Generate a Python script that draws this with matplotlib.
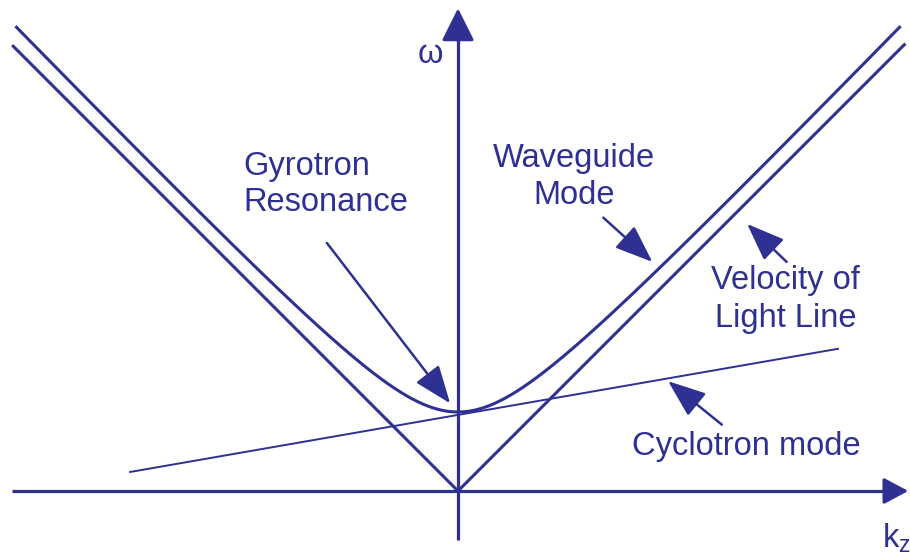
import numpy as np
import matplotlib.pyplot as plt

plt.rcParams['font.family'] = ['Liberation Sans', 'DejaVu Sans']

blue = '#2E3192'

# dispersion parameters (frequency in units of the waveguide cutoff)
omega_cut = 1.0          # waveguide cutoff
wg_slope = 1.035         # asymptotic slope of the waveguide branch
omega_max = 5.87         # top of the waveguide curve
light_k = [-5.63, 5.65]  # extent of the light line
cyc_k = [-4.15, 4.81]    # extent of the beam (cyclotron) line
cyc_omega0 = 0.963       # cyclotron frequency at k_z = 0
cyc_slope = 0.174        # beam velocity

k_end = np.sqrt(omega_max**2 - omega_cut**2) / wg_slope
k_wg = np.linspace(-k_end, k_end, 600)
omega_wg = np.sqrt(omega_cut**2 + (wg_slope * k_wg)**2)

k_light = np.array([light_k[0], 0.0, light_k[1]])
omega_light = np.abs(k_light)

k_cyc = np.array(cyc_k)
omega_cyc = cyc_omega0 + cyc_slope * k_cyc

fig = plt.figure(figsize=(9.1, 5.54), dpi=100)
ax = fig.add_axes([0, 0, 1, 1])
ax.set_xlim(-458 / 79, 452 / 79)
ax.set_ylim(-63 / 79, 491 / 79)
ax.axis('off')

# axes with arrow heads
ax.plot([-5.65, 5.5], [0, 0], color=blue, lw=2.3, solid_capstyle='butt')
ax.plot([0, 0], [-0.62, 5.9], color=blue, lw=2.3, solid_capstyle='butt')
ax.annotate('', xy=(5.70, 0), xytext=(5.4, 0), annotation_clip=False,
            arrowprops=dict(arrowstyle='-|>,head_length=0.75,head_width=0.4',
                            color=blue, lw=2.3, mutation_scale=20, shrinkA=0, shrinkB=0))
ax.annotate('', xy=(0, 6.11), xytext=(0, 5.7), annotation_clip=False,
            arrowprops=dict(arrowstyle='-|>,head_length=1.0,head_width=0.5',
                            color=blue, lw=2.3, mutation_scale=20, shrinkA=0, shrinkB=0))

ax.plot(k_wg, omega_wg, color=blue, lw=2.2)
ax.plot(k_light, omega_light, color=blue, lw=2.2)
ax.plot(k_cyc, omega_cyc, color=blue, lw=1.4)

fs = 23.5
ax.text(-2.72, 4.0, 'Gyrotron', color=blue, fontsize=fs, ha='left', va='baseline')
ax.text(-2.72, 3.54, 'Resonance', color=blue, fontsize=fs, ha='left', va='baseline')
ax.text(1.47, 4.10, 'Waveguide', color=blue, fontsize=fs, ha='center', va='baseline')
ax.text(1.47, 3.63, 'Mode', color=blue, fontsize=fs, ha='center', va='baseline')
ax.text(4.15, 2.56, 'Velocity of', color=blue, fontsize=fs, ha='center', va='baseline')
ax.text(4.15, 2.08, 'Light Line', color=blue, fontsize=fs, ha='center', va='baseline')
ax.text(2.20, 0.46, 'Cyclotron mode', color=blue, fontsize=fs, ha='left', va='baseline')
ax.text(-0.35, 5.42, 'ω', color=blue, fontsize=fs, ha='center', va='baseline')
ax.text(5.37, -0.72, r'$\mathregular{k_z}$', color=blue, fontsize=fs, ha='left', va='baseline')

# pointer arrows
pointers = [((-1.66, 3.14), (-0.10, 1.11)),
            ((1.84, 3.46), (2.46, 2.90)),
            ((4.16, 2.90), (3.66, 3.38)),
            ((3.34, 0.84), (2.66, 1.39))]
for tail, tip in pointers:
    ax.annotate('', xy=tip, xytext=tail,
                arrowprops=dict(arrowstyle='-|>,head_length=1.3,head_width=0.5',
                                color=blue, lw=1.8, mutation_scale=18,
                                shrinkA=0, shrinkB=0))

fig.savefig('out.png', dpi=100, facecolor='white')
